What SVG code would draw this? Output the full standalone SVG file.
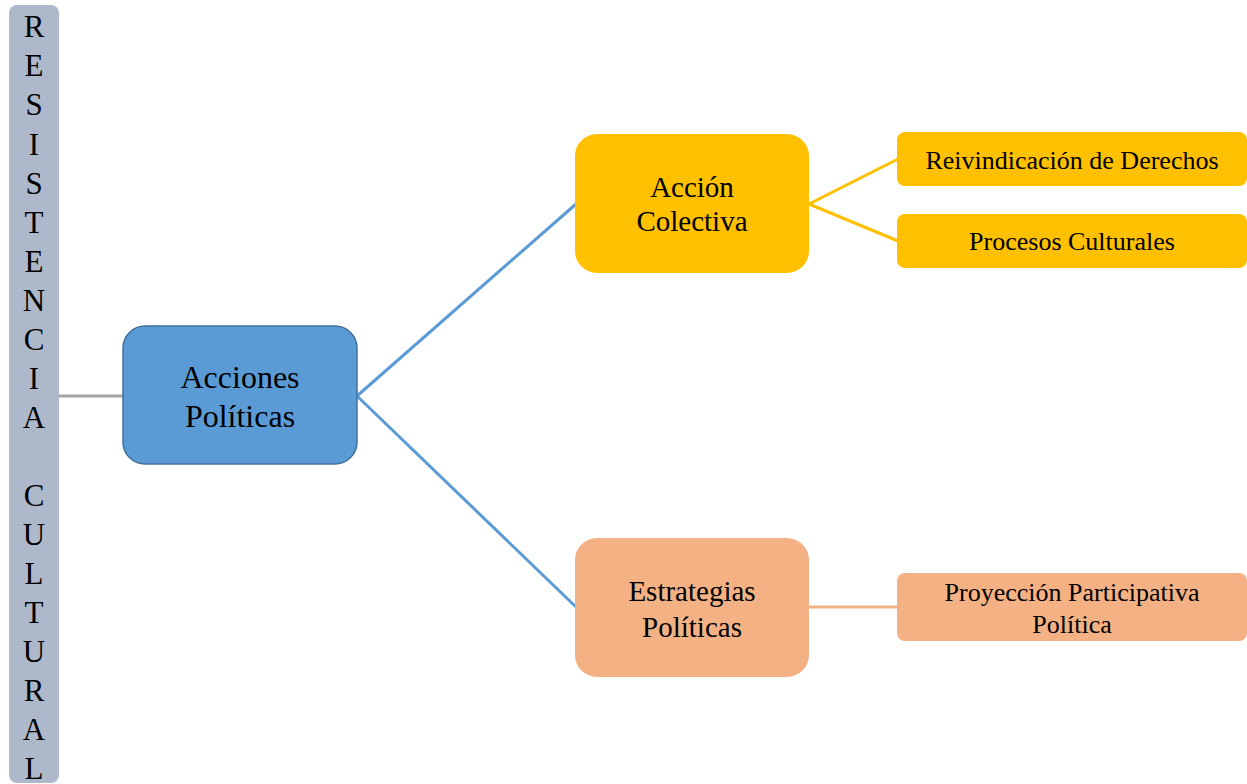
<svg xmlns="http://www.w3.org/2000/svg" width="1247" height="784" viewBox="0 0 1247 784">
<style>
text{font-family:"Liberation Serif","Times New Roman",serif;fill:#000;text-anchor:middle}
.bar{font-size:31px}
.big{font-size:32px}
.mid{font-size:29px}
.sm{font-size:26px}
.conn{fill:none;stroke-width:3}
</style>
<rect width="1247" height="784" fill="#fff"/>
<g id="resistencia">
<rect x="9" y="5" width="50" height="778" rx="8" fill="#ADB9CA"/>
<text class="bar" x="34" y="37">R</text>
<text class="bar" x="34" y="76">E</text>
<text class="bar" x="34" y="115">S</text>
<text class="bar" x="34" y="155">I</text>
<text class="bar" x="34" y="194">S</text>
<text class="bar" x="34" y="233">T</text>
<text class="bar" x="34" y="272">E</text>
<text class="bar" x="34" y="311">N</text>
<text class="bar" x="34" y="350">C</text>
<text class="bar" x="34" y="389">I</text>
<text class="bar" x="34" y="428">A</text>
<text class="bar" x="34" y="506">C</text>
<text class="bar" x="34" y="545">U</text>
<text class="bar" x="34" y="584">L</text>
<text class="bar" x="34" y="623">T</text>
<text class="bar" x="34" y="662">U</text>
<text class="bar" x="34" y="701">R</text>
<text class="bar" x="34" y="740">A</text>
<text class="bar" x="34" y="779">L</text>
</g>
<g id="connectors">
<line class="conn" x1="59" y1="396" x2="123" y2="396" stroke="#A5A5A5"/>
<line class="conn" x1="357" y1="396" x2="576" y2="204" stroke="#5B9BD5"/>
<line class="conn" x1="357" y1="396" x2="576" y2="607" stroke="#5B9BD5"/>
<line class="conn" x1="809" y1="204" x2="898" y2="159" stroke="#FFC000"/>
<line class="conn" x1="809" y1="204" x2="898" y2="241" stroke="#FFC000"/>
<line class="conn" x1="809" y1="607" x2="898" y2="607" stroke="#F4B183"/>
</g>
<g id="acciones">
<rect x="123" y="326" width="234" height="138" rx="22" fill="#5B9BD5" stroke="#41719C" stroke-width="1.5"/>
<text class="big" x="240" y="388">Acciones</text>
<text class="big" x="240" y="427">Políticas</text>
</g>
<g id="accion-colectiva">
<rect x="575" y="134" width="234" height="139" rx="22" fill="#FFC000"/>
<text class="mid" x="692" y="197">Acción</text>
<text class="mid" x="692" y="231">Colectiva</text>
</g>
<g id="estrategias">
<rect x="575" y="538" width="234" height="139" rx="22" fill="#F4B183"/>
<text class="mid" x="692" y="601">Estrategias</text>
<text class="mid" x="692" y="637">Políticas</text>
</g>
<g id="reivindicacion">
<rect x="897" y="132" width="350" height="54" rx="8" fill="#FFC000"/>
<text class="sm" x="1072" y="169">Reivindicación de Derechos</text>
</g>
<g id="procesos">
<rect x="897" y="214" width="350" height="54" rx="8" fill="#FFC000"/>
<text class="sm" x="1072" y="250">Procesos Culturales</text>
</g>
<g id="proyeccion">
<rect x="897" y="573" width="350" height="68" rx="8" fill="#F4B183"/>
<text class="sm" x="1072" y="601">Proyección Participativa</text>
<text class="sm" x="1072" y="633">Política</text>
</g>
</svg>
